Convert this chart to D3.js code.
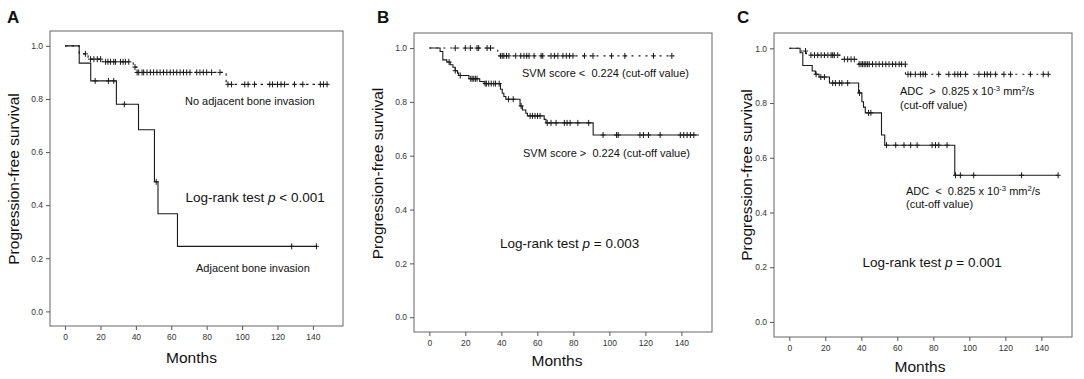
<!DOCTYPE html>
<html>
<head>
<meta charset="utf-8">
<script src="https://cdn.jsdelivr.net/npm/d3@7"></script>
<style>
body { margin: 0; background: #fff; }
svg { display: block; font-family: Arial, "Liberation Sans", sans-serif; }
</style>
</head>
<body>
<script>
// axis ticks
var monthTicks = [0, 20, 40, 60, 80, 100, 120, 140];
var survTicks = [0, 0.2, 0.4, 0.6, 0.8, 1.0];

// A: adjacent bone invasion
var aNoInvTime = [0, 8, 13, 21, 38.5, 40.5, 91];
var aNoInvSurv = [1, 0.97, 0.95, 0.94, 0.92, 0.90, 0.855];
var aNoInvCens = [11.5, 14.4, 16.3, 18.2, 20.1, 22.9, 24.2, 25.7, 27.5, 28.5, 31.3, 32.8, 34.1, 36, 39.5,
  40.7, 41.6, 43.5, 44.4, 46.3, 48.2, 50, 51.9, 53.7, 55.6, 57.5, 59.4, 61.2, 63.1, 65, 66.9, 68.7, 70.6,
  74.4, 76.2, 78.1, 80, 82.8, 87.5, 92, 94, 101.5, 103.4, 107, 115.6, 117.2, 120, 122, 124, 129.6, 134.3,
  144.2, 146, 148];
var aInvTime = [0, 8, 14.5, 29, 41.5, 50.5, 52.5, 63.5];
var aInvSurv = [1, 0.935, 0.868, 0.78, 0.684, 0.488, 0.368, 0.245];
var aInvCens = [17, 24.5, 27.5, 33.5, 51.5, 128, 142];

// B: SVM score
var bLowTime = [0, 6, 7.5, 9.7, 11.6, 13.1, 14.4, 15.7, 16.3, 22, 28, 30.5, 39.5, 40.5, 41.4, 42.5,
  50.4, 51.7, 53.6, 54.5, 63.8, 64.8, 91];
var bLowSurv = [1, 0.987, 0.956, 0.948, 0.938, 0.929, 0.916, 0.907, 0.898, 0.886, 0.876, 0.868, 0.847,
  0.832, 0.82, 0.81, 0.785, 0.77, 0.758, 0.748, 0.735, 0.722, 0.677];
var bLowCens = [11, 14.4, 17.2, 23, 23.8, 24.7, 25.6, 26.5, 31, 31.7, 33, 34.4, 35.8, 36.8, 38.8, 44, 46.6,
  51, 56, 57.3, 58.7, 60.1, 61.5, 65.5, 67.6, 70.4, 75, 76.5, 78.2, 82.5, 88.5, 96.5, 104, 104.9, 117,
  118.9, 121.7, 128.2, 139.4, 141.3, 143.2, 145, 146.9];
var bUpTime = [0, 38];
var bUpSurv = [1, 0.971];
var bUpCens = [14.4, 20, 22.8, 26.5, 27.4, 32.1, 34, 39.5, 40.5, 41.4, 42.9, 44.2, 48, 50.8, 52.6, 54.1,
  55.4, 58.2, 62.1, 63, 67.6, 69.5, 71.4, 74.2, 76.1, 77.9, 79.8, 86.2, 90.9, 101.2, 108.6, 124.5, 134.7];

// C: ADC
var cUpTime = [0, 5.7, 9.5, 29, 38.5, 64.5];
var cUpSurv = [1, 0.99, 0.975, 0.96, 0.942, 0.905];
var cUpCens = [9, 12, 14, 15.8, 17.7, 19.5, 21.4, 23.2, 24.1, 25, 26.9, 30.6, 32.4, 34.3, 36.1, 38.8, 39.8,
  40.7, 41.6, 42.5, 43.5, 44.4, 46.2, 48.1, 49.9, 51.8, 53.6, 55.4, 57.3, 59.1, 61, 62.4, 64.4, 65.9, 67.4,
  70, 72.8, 74.3, 75.6, 83, 88.6, 91.9, 93.6, 95.1, 97.9, 105.3, 108.4, 109.9, 111.8, 114.6, 119.2, 122.9,
  133.9, 141, 143.8];
var cLowTime = [0, 6, 7.5, 12.7, 14.5, 16.5, 22.3, 38.5, 40.3, 41.2, 42.2, 51.2, 53, 91.9];
var cLowSurv = [1, 0.984, 0.937, 0.917, 0.905, 0.895, 0.873, 0.837, 0.805, 0.785, 0.764, 0.683, 0.646, 0.536];
var cLowCens = [14.9, 17.5, 19.5, 24.1, 25.6, 27.8, 29.2, 32.4, 39, 44, 45.3, 54, 59.1, 63.7, 67.4, 71,
  79.3, 81.2, 83, 87.6, 92.3, 95, 102.4, 129, 149.3];

// last follow-up (months): aNoInv, aInv, bUp, bLow, cUp, cLow
var lastFollowUp = [150, 142, 136, 149.7, 145, 149.3];

var svg = d3.select("body").append("svg").attr("width", 1084).attr("height", 379);

function survAt(times, surv, t) {
  var i = d3.bisectRight(times, t) - 1;
  return surv[Math.max(0, i)];
}

var panels = [
  { letter: "A", lx: 7, box: {x: 50, y: 31, w: 293, h: 295}, ylab: {x: 14, y: 179}, mlab: {x: 191.5, y: 362.5},
    curves: [
      {t: aNoInvTime, s: aNoInvSurv, c: aNoInvCens, end: lastFollowUp[0], dash: "2.5,4"},
      {t: aInvTime, s: aInvSurv, c: aInvCens, end: lastFollowUp[1], dash: null}
    ],
    notes: [
      {x: 185, y: 105, size: 11, parts: [["No adjacent bone invasion"]]},
      {x: 196, y: 272, size: 11, parts: [["Adjacent bone invasion"]]},
      {x: 185.5, y: 202, size: 13.5, parts: [["Log-rank test "], ["p", "i"], [" < 0.001"]]}
    ] },
  { letter: "B", lx: 377, box: {x: 414, y: 33, w: 298, h: 299}, ylab: {x: 378, y: 173.5}, mlab: {x: 557, y: 365.5},
    curves: [
      {t: bUpTime, s: bUpSurv, c: bUpCens, end: lastFollowUp[2], dash: "2,5"},
      {t: bLowTime, s: bLowSurv, c: bLowCens, end: lastFollowUp[3], dash: null}
    ],
    notes: [
      {x: 522, y: 77, size: 11, parts: [["SVM score <  0.224 (cut-off value)"]]},
      {x: 523, y: 157, size: 11, parts: [["SVM score >  0.224 (cut-off value)"]]},
      {x: 500, y: 248, size: 13.5, parts: [["Log-rank test "], ["p", "i"], [" = 0.003"]]}
    ] },
  { letter: "C", lx: 737, box: {x: 774, y: 33, w: 298, h: 304}, ylab: {x: 747, y: 175}, mlab: {x: 920, y: 371.5},
    curves: [
      {t: cUpTime, s: cUpSurv, c: cUpCens, end: lastFollowUp[4], dash: "2,5"},
      {t: cLowTime, s: cLowSurv, c: cLowCens, end: lastFollowUp[5], dash: null}
    ],
    notes: [
      {x: 900, y: 95, size: 11, parts: [["ADC  >  0.825 x 10"], ["-3", "s"], [" mm"], ["2", "s"], ["/s"]]},
      {x: 900, y: 108.5, size: 11, parts: [["(cut-off value)"]]},
      {x: 906, y: 195, size: 11, parts: [["ADC  <  0.825 x 10"], ["-3", "s"], [" mm"], ["2", "s"], ["/s"]]},
      {x: 906, y: 207.5, size: 11, parts: [["(cut-off value)"]]},
      {x: 862.5, y: 267, size: 13.5, parts: [["Log-rank test "], ["p", "i"], [" = 0.001"]]}
    ] }
];

panels.forEach(function(p) {
  var b = p.box;
  var x = d3.scaleLinear().domain([-8.5, 157]).range([b.x, b.x + b.w]);
  var y = d3.scaleLinear().domain([-0.055, 1.056]).range([b.y + b.h, b.y]);
  var g = svg.append("g");

  // frame
  g.append("rect").attr("x", b.x).attr("y", b.y).attr("width", b.w).attr("height", b.h)
    .attr("fill", "none").attr("stroke", "#666").attr("stroke-width", 1);

  // axes
  var yAxis = g.append("g").attr("transform", "translate(" + b.x + ",0)")
    .call(d3.axisLeft(y).tickValues(survTicks).tickFormat(d3.format(".1f")).tickSize(4).tickPadding(3));
  var xAxis = g.append("g").attr("transform", "translate(0," + (b.y + b.h) + ")")
    .call(d3.axisBottom(x).tickValues(monthTicks).tickSize(4).tickPadding(4));
  [xAxis, yAxis].forEach(function(a) {
    a.select(".domain").remove();
    a.selectAll("line").attr("stroke", "#555");
    a.selectAll("text").attr("fill", "#333").style("font-size", "8.5px").style("font-family", "Arial, 'Liberation Sans', sans-serif");
  });

  // curves
  var line = d3.line().x(function(d) { return x(d[0]); }).y(function(d) { return y(d[1]); }).curve(d3.curveStepAfter);
  p.curves.forEach(function(cv) {
    var pts = cv.t.map(function(t, i) { return [t, cv.s[i]]; });
    pts.push([cv.end, cv.s[cv.s.length - 1]]);
    g.append("path").datum(pts).attr("d", line).attr("fill", "none")
      .attr("stroke", "#1a1a1a").attr("stroke-width", 1.1)
      .attr("stroke-dasharray", cv.dash);
    var marks = g.append("g").selectAll("g").data(cv.c).enter().append("g")
      .attr("transform", function(t) { return "translate(" + x(t) + "," + y(survAt(cv.t, cv.s, t)) + ")"; });
    marks.append("line").attr("x1", 0).attr("x2", 0).attr("y1", -3).attr("y2", 3)
      .attr("stroke", "#1a1a1a").attr("stroke-width", 1);
    marks.append("line").attr("x1", -2.5).attr("x2", 2.5).attr("y1", 0).attr("y2", 0)
      .attr("stroke", "#1a1a1a").attr("stroke-width", 1);
  });

  // annotations
  p.notes.forEach(function(n) {
    var txt = g.append("text").attr("x", n.x).attr("y", n.y).attr("fill", "#111")
      .style("font-size", n.size + "px").style("white-space", "pre");
    var raised = false;
    n.parts.forEach(function(part) {
      var ts = txt.append("tspan").text(part[0]);
      if (part[1] === "i") ts.style("font-style", "italic");
      if (part[1] === "s") {
        ts.attr("dy", -4).style("font-size", (n.size * 0.7) + "px");
        raised = true;
      } else if (raised) {
        ts.attr("dy", 4);
        raised = false;
      }
    });
  });

  // axis titles and panel letter
  g.append("text").attr("transform", "translate(" + p.ylab.x + "," + p.ylab.y + ") rotate(-90)")
    .attr("text-anchor", "middle").attr("dy", "0.35em").style("font-size", "15.5px").attr("fill", "#111")
    .text("Progression-free survival");
  g.append("text").attr("x", p.mlab.x).attr("y", p.mlab.y).attr("text-anchor", "middle")
    .style("font-size", "15.5px").attr("fill", "#111").text("Months");
  g.append("text").attr("x", p.lx).attr("y", 23).style("font-size", "17px").style("font-weight", "bold")
    .attr("fill", "#111").text(p.letter);
});
</script>
</body>
</html>
